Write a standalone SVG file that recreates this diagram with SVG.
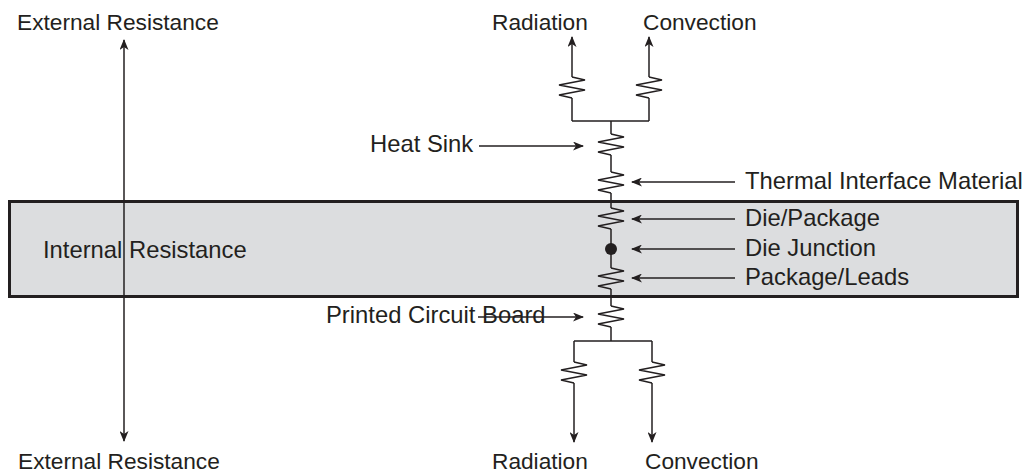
<svg xmlns="http://www.w3.org/2000/svg" width="1024" height="475" viewBox="0 0 1024 475">
<style>
text{font-family:"Liberation Sans",Arial,sans-serif;font-size:22.7px;fill:#231f20}
text.l{font-size:23.8px}
.w{fill:none;stroke:#231f20;stroke-width:1.5}
.a{fill:none;stroke:#231f20;stroke-width:1.5;marker-end:url(#ah)}
</style>
<defs>
<marker id="ah" markerWidth="11" markerHeight="9" refX="10" refY="4.5" orient="auto" markerUnits="userSpaceOnUse">
<path d="M0,0 L11,4.5 L0,9 L3,4.5 z" fill="#231f20"/>
</marker>
<marker id="ahs" markerWidth="11" markerHeight="9" refX="10" refY="4.5" orient="auto-start-reverse" markerUnits="userSpaceOnUse">
<path d="M0,0 L11,4.5 L0,9 L3,4.5 z" fill="#231f20"/>
</marker>
<path id="res" d="M0,0 L13,3 L-13,8 L13,13 L-13,18 L0,21" fill="none" stroke="#231f20" stroke-width="1.5"/>
</defs>
<rect width="1024" height="475" fill="#fff"/>
<g id="internal-box">
<rect x="9.5" y="201.5" width="1008" height="95" fill="#dcdddf" stroke="#231f20" stroke-width="3"/>
<text class="l" x="43" y="258">Internal Resistance</text>
</g>
<g id="connectors">
<line x1="124" y1="40" x2="124" y2="441" class="w" marker-start="url(#ahs)" marker-end="url(#ah)"/>
<path class="w" d="M611,134 V121 M572,121 H649 M572,121 V98 M649,121 V98"/>
<line x1="572" y1="77" x2="572" y2="37" class="a"/>
<line x1="649" y1="77" x2="649" y2="37" class="a"/>
<path class="w" d="M611,155 V172 M611,193 V208 M611,229 V250 V268 M611,289 V306 M611,327 V341 M574,341 H652 M574,341 V362 M652,341 V362"/>
<line x1="574" y1="383" x2="574" y2="442" class="a"/>
<line x1="652" y1="383" x2="652" y2="442" class="a"/>
<line x1="479" y1="146" x2="583" y2="146" class="a"/>
<line x1="478" y1="317" x2="583" y2="317" class="a"/>
<line x1="735" y1="182" x2="632" y2="182" class="a"/>
<line x1="735" y1="219" x2="632" y2="219" class="a"/>
<line x1="735" y1="249" x2="632" y2="249" class="a"/>
<line x1="735" y1="278" x2="632" y2="278" class="a"/>
</g>
<g id="resistors">
<use href="#res" x="572" y="77"/>
<use href="#res" x="649" y="77"/>
<use href="#res" x="611" y="134"/>
<use href="#res" x="611" y="172"/>
<use href="#res" x="611" y="208"/>
<use href="#res" x="611" y="268"/>
<use href="#res" x="611" y="306"/>
<use href="#res" x="574" y="362"/>
<use href="#res" x="652" y="362"/>
</g>
<g id="junction"><circle cx="611" cy="249" r="6" fill="#231f20"/></g>
<g id="labels">
<text x="17" y="30">External Resistance</text>
<text x="18" y="469">External Resistance</text>
<text x="492" y="30">Radiation</text>
<text x="643" y="30">Convection</text>
<text x="492" y="469">Radiation</text>
<text x="645" y="469">Convection</text>
<text class="l" x="370" y="152">Heat Sink</text>
<text class="l" x="326" y="323">Printed Circuit Board</text>
<text class="l" x="745" y="189">Thermal Interface Material</text>
<text class="l" x="745" y="226">Die/Package</text>
<text class="l" x="745" y="256">Die Junction</text>
<text class="l" x="745" y="285">Package/Leads</text>
</g>
</svg>
